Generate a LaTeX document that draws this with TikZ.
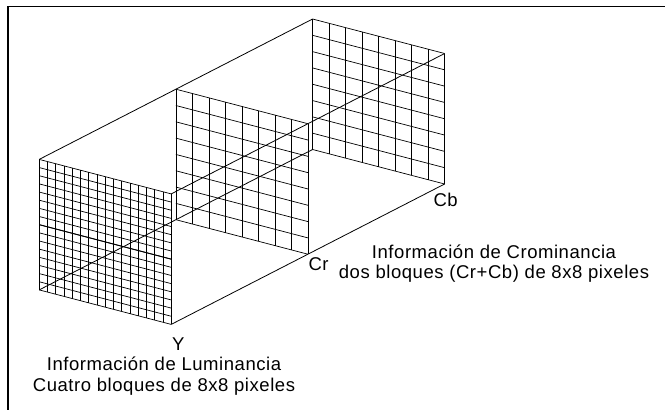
\documentclass[tikz,border=0pt]{standalone}
\usepackage{fontspec}
\setmainfont{Liberation Sans}[LetterSpace=3]
\usetikzlibrary{calc}
\begin{document}
\begin{tikzpicture}[x=1pt,y=-1pt,
  frameline/.style={line width=1.8pt,line cap=rect},
  edgeline/.style={line width=0.8pt},
  gridline/.style={line width=0.7pt},
  blockline/.style={line width=0.9pt},
  lbl/.style={font=\fontsize{18.5}{21}\selectfont,inner sep=0pt,anchor=base}]
\useasboundingbox (0,0) rectangle (665,410);
% frame (only top and left edges visible)
\coordinate (fTR) at (666,6.5);
\coordinate (fTL) at (8,6.5);
\coordinate (fBL) at (8,411);
\draw[frameline] (fTR) -- (fTL) -- (fBL);
% panel geometry
\def\pw{132}\def\ph{130.5}\def\ps{34.5}
\def\dx{136.7}\def\dy{-70.2}
\foreach \k/\n/\nm in {0/16/Y,1/8/Cr,2/8/Cb}{
  \coordinate (\nm TL) at ({39.2+\k*\dx},{159.4+\k*\dy});
  \coordinate (\nm TR) at ($(\nm TL)+(\pw,\ps)$);
  \coordinate (\nm BL) at ($(\nm TL)+(0,\ph)$);
  \coordinate (\nm BR) at ($(\nm TL)+(\pw,\ps+\ph)$);
  \foreach \i in {0,...,\n}{
    \draw[gridline] ($(\nm TL)+({\i*\pw/\n},{\i*\ps/\n})$) -- ++(0,\ph);
    \draw[gridline] ($(\nm TL)+(0,{\i*\ph/\n})$) -- ++(\pw,\ps);
  }
}
% block boundaries of the luminance panel
\draw[blockline] ($(YTL)+(0,{\ph/2})$) -- ++(\pw,\ps);
\draw[blockline] ($(YTL)+({\pw/2},{\ps/2})$) -- ++(0,\ph);
% depth edges
\draw[edgeline] (YTL) -- (CrTL) -- (CbTL);
\draw[edgeline] (YTR) -- (CrTR) -- (CbTR);
\draw[edgeline] (YBL) -- (CrBL) -- (CbBL);
\draw[edgeline] (YBR) -- (CrBR) -- (CbBR);
% labels
\node[lbl] (ylab) at (178.4,350.7) {Y};
\node[lbl] (ylum) at (164,370) {Información de Luminancia};
\node[lbl] (ycua) at (164,391) {Cuatro bloques de 8x8 pixeles};
\node[lbl,anchor=base west] (crlab) at (308.3,270) {Cr};
\node[lbl,anchor=base west] (cblab) at (433.3,206.7) {Cb};
\node[lbl] (ccro) at (494,258.3) {Información de Crominancia};
\node[lbl] (cdos) at (494,278.3) {dos bloques (Cr+Cb) de 8x8 pixeles};
\end{tikzpicture}
\end{document}
